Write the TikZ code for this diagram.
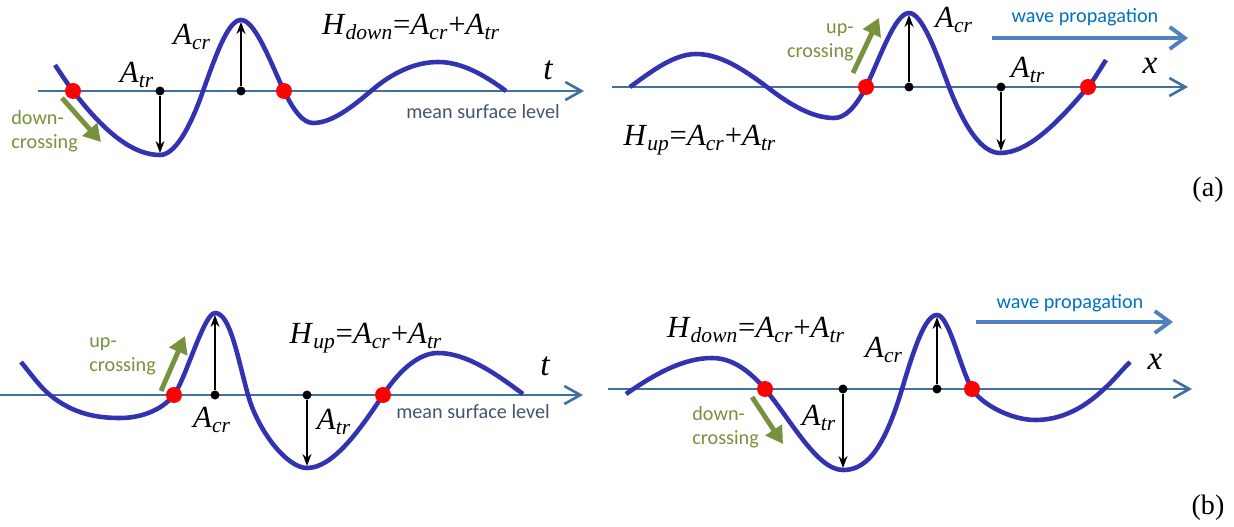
\documentclass[tikz,border=0pt]{standalone}
\usepackage{fontspec}
\setmainfont{Liberation Serif}
\setsansfont{Carlito}
\usetikzlibrary{arrows.meta}
\definecolor{WaveBlue}{RGB}{51,51,178}
\definecolor{AxisBlue}{RGB}{65,113,156}
\definecolor{LevelGray}{RGB}{68,84,106}
\definecolor{PropBlue}{RGB}{79,129,189}
\definecolor{PropText}{RGB}{0,112,192}
\definecolor{CrossGreen}{RGB}{118,146,60}
\newcommand{\wsub}[2]{\textit{#1}\textsubscript{\textit{#2}}}

\begin{document}
\begin{tikzpicture}[x=0.02cm, y=-0.02cm,
	wave/.style={WaveBlue, line width=2.6pt},
	axis/.style={AxisBlue, line width=1.5pt, -{Straight Barb[length=3.2mm,width=3.6mm]}},
	zero/.style={circle, fill=red, inner sep=0pt, minimum size=0.32cm},
	foot/.style={circle, fill=black, inner sep=0pt, minimum size=0.18cm},
	amp/.style={-{Stealth[length=2.4mm,width=1.8mm]}, line width=0.8pt},
	dirn/.style={CrossGreen, line width=2.8pt, -{Triangle[length=3.4mm,width=3.8mm]}},
	crosslbl/.style={CrossGreen, font=\sffamily\fontsize{11.5}{13.6}\selectfont, inner sep=0pt},
	level/.style={LevelGray, font=\sffamily\fontsize{11.5}{13.6}\selectfont},
	prop/.style={PropBlue, line width=2.2pt, -{Straight Barb[length=3mm,width=4.4mm]}},
	proplbl/.style={PropText, font=\sffamily\fontsize{11.5}{13.6}\selectfont},
	sym/.style={font=\fontsize{17.5}{20}\selectfont, inner sep=0pt},
	var/.style={font=\fontsize{19}{22}\selectfont\itshape, inner sep=0pt},
	tag/.style={font=\fontsize{16}{19}\selectfont}]

	\useasboundingbox (0,0) rectangle (1234,527);

	% (a) left: time record, down-crossing
	\coordinate (a1s) at (38,91);  \coordinate (a1e) at (584,91);
	\draw[axis] (a1s) -- (a1e);
	\draw[wave] (55,65) .. controls (61,74) and (67,83) .. (73,91)
		.. controls (102,129) and (131,155) .. (160,155)
		.. controls (174,155) and (189,131) .. (203,91)
		.. controls (216,55) and (228,20) .. (241,20)
		.. controls (255,20) and (270,61) .. (284,91)
		.. controls (294,111) and (303,123) .. (313,123)
		.. controls (332,123) and (352,107) .. (371,91)
		.. controls (393,72) and (416,62) .. (438,62)
		.. controls (461,62) and (483,74) .. (506,91);
	\coordinate (a1tr) at (160,153);  \coordinate (a1cr) at (241,22);
	\node[foot] (a1f1) at (160,91) {};
	\node[foot] (a1f2) at (241,91) {};
	\draw[amp] (a1f1) -- (a1tr);
	\draw[amp] (a1f2) -- (a1cr);
	\node[zero] (a1z1) at (73,91) {};
	\node[zero] (a1z2) at (284,91) {};
	\coordinate (a1g1) at (62,98);  \coordinate (a1g2) at (101,142);
	\draw[dirn] (a1g1) -- (a1g2);
	\node[crosslbl, anchor=west, align=left] (a1dc) at (11,131) {down-\\crossing};
	\node[sym] (a1atr) at (137,75) {\wsub{A}{tr}};
	\node[sym] (a1acr) at (192,37) {\wsub{A}{cr}};
	\node[sym] (a1h) at (411,27) {\wsub{H}{down}=\wsub{A}{cr}+\wsub{A}{tr}};
	\node[var] (a1t) at (548,70) {t};
	\node[level] (a1lev) at (483,112) {mean surface level};

	% (a) right: space record, up-crossing
	\coordinate (a2s) at (612,87);  \coordinate (a2e) at (1188,87);
	\draw[axis] (a2s) -- (a2e);
	\draw[wave] (630,87) .. controls (652,71) and (674,54) .. (696,54)
		.. controls (720,54) and (743,69) .. (767,87)
		.. controls (789,104) and (812,118) .. (834,118)
		.. controls (845,118) and (855,108) .. (866,87)
		.. controls (880,58) and (895,13) .. (909,13)
		.. controls (922,13) and (936,52) .. (949,87)
		.. controls (966,131) and (983,153) .. (1000,153)
		.. controls (1029,153) and (1059,121) .. (1088,87)
		.. controls (1094,80) and (1100,69) .. (1106,60);
	\coordinate (a2cr) at (909,15);  \coordinate (a2tr) at (1001,151);
	\node[foot] (a2f1) at (909,87) {};
	\node[foot] (a2f2) at (1001,87) {};
	\draw[amp] (a2f1) -- (a2cr);
	\draw[amp] (a2f2) -- (a2tr);
	\node[zero] (a2z1) at (866,87) {};
	\node[zero] (a2z2) at (1088,87) {};
	\coordinate (a2g1) at (853,73);  \coordinate (a2g2) at (879,18);
	\draw[dirn] (a2g1) -- (a2g2);
	\node[crosslbl, anchor=east, align=right] (a2uc) at (854,42) {up-\\crossing};
	\node[sym] (a2acr) at (954,20) {\wsub{A}{cr}};
	\node[sym] (a2atr) at (1028,70) {\wsub{A}{tr}};
	\node[sym] (a2h) at (700,140) {\wsub{H}{up}=\wsub{A}{cr}+\wsub{A}{tr}};
	\node[var] (a2x) at (1150,66) {x};
	\coordinate (a2p1) at (992,38);  \coordinate (a2p2) at (1188,38);
	\draw[prop] (a2p1) -- (a2p2);
	\node[proplbl] (a2prop) at (1085,17) {wave propagation};
	\node[tag] (tga) at (1208,190) {(a)};

	% (b) left: time record, up-crossing
	\coordinate (b1s) at (0,395);  \coordinate (b1e) at (583,395);
	\draw[axis] (b1s) -- (b1e);
	\draw[wave] (21,362) .. controls (31,374) and (40,387) .. (50,395)
		.. controls (73,414) and (97,418) .. (120,418)
		.. controls (140,418) and (161,411) .. (174,395)
		.. controls (186,378) and (204,313) .. (215,313)
		.. controls (230,313) and (237,355) .. (248,395)
		.. controls (258,431) and (287,468) .. (307,468)
		.. controls (332,468) and (358,433) .. (383,395)
		.. controls (401,368) and (420,353) .. (438,353)
		.. controls (466,353) and (495,373) .. (523,394);
	\coordinate (b1cr) at (215,315);  \coordinate (b1tr) at (307,466);
	\node[foot] (b1f1) at (215,395) {};
	\node[foot] (b1f2) at (307,395) {};
	\draw[amp] (b1f1) -- (b1cr);
	\draw[amp] (b1f2) -- (b1tr);
	\node[zero] (b1z1) at (174,395) {};
	\node[zero] (b1z2) at (383,395) {};
	\coordinate (b1g1) at (161,391);  \coordinate (b1g2) at (185,336);
	\draw[dirn] (b1g1) -- (b1g2);
	\node[crosslbl, anchor=west, align=left] (b1uc) at (89,356) {up-\\crossing};
	\node[sym] (b1acr) at (212,420) {\wsub{A}{cr}};
	\node[sym] (b1atr) at (334,422) {\wsub{A}{tr}};
	\node[sym] (b1h) at (366,338) {\wsub{H}{up}=\wsub{A}{cr}+\wsub{A}{tr}};
	\node[var] (b1t) at (545,366) {t};
	\node[level] (b1lev) at (473,412) {mean surface level};

	% (b) right: space record, down-crossing
	\coordinate (b2s) at (608,389);  \coordinate (b2e) at (1192,389);
	\draw[axis] (b2s) -- (b2e);
	\draw[wave] (626,394) .. controls (655,374) and (683,358) .. (712,358)
		.. controls (730,358) and (747,368) .. (765,389)
		.. controls (791,420) and (817,470) .. (843,470)
		.. controls (863,470) and (882,456) .. (902,389)
		.. controls (914,349) and (925,315) .. (937,315)
		.. controls (949,315) and (960,368) .. (972,389)
		.. controls (982,405) and (1012,420) .. (1035,420)
		.. controls (1058,420) and (1081,411) .. (1104,389)
		.. controls (1113,381) and (1121,371) .. (1130,362);
	\coordinate (b2tr) at (843,468);  \coordinate (b2cr) at (937,317);
	\node[foot] (b2f1) at (843,389) {};
	\node[foot] (b2f2) at (937,389) {};
	\draw[amp] (b2f1) -- (b2tr);
	\draw[amp] (b2f2) -- (b2cr);
	\node[zero] (b2z1) at (765,389) {};
	\node[zero] (b2z2) at (972,389) {};
	\coordinate (b2g1) at (752,397);  \coordinate (b2g2) at (783,444);
	\draw[dirn] (b2g1) -- (b2g2);
	\node[crosslbl, anchor=west, align=left] (b2dc) at (692,427) {down-\\crossing};
	\node[sym] (b2h) at (756,330) {\wsub{H}{down}=\wsub{A}{cr}+\wsub{A}{tr}};
	\node[sym] (b2acr) at (884,350) {\wsub{A}{cr}};
	\node[sym] (b2atr) at (819,418) {\wsub{A}{tr}};
	\node[var] (b2x) at (1155,362) {x};
	\coordinate (b2p1) at (976,322);  \coordinate (b2p2) at (1173,322);
	\draw[prop] (b2p1) -- (b2p2);
	\node[proplbl] (b2prop) at (1070,303) {wave propagation};
	\node[tag] (tgb) at (1208,508) {(b)};
\end{tikzpicture}
\end{document}
